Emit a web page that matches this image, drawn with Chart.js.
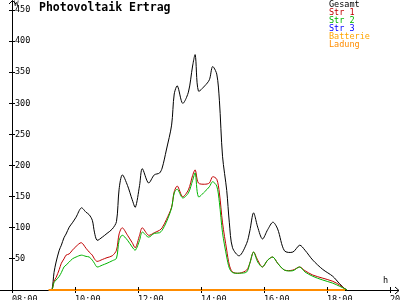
<!DOCTYPE html>
<html>
<head>
<meta charset="utf-8">
<title>Photovoltaik Ertrag</title>
<script src="https://cdn.jsdelivr.net/npm/chart.js@4.4.1/dist/chart.umd.min.js"></script>
<style>
    html, body { margin: 0; padding: 0; background: #fff; }
    canvas { display: block; }
</style>
</head>
<body>
<canvas id="ertragChart" width="400" height="300"></canvas>
<script>
// Messzeitpunkte (hh:mm) und Leistung in W
const times = [
    '09:11', '09:16', '09:20', '09:24', '09:30', '09:34', '09:39', '09:43', '09:49', '09:55',
    '10:02', '10:12', '10:21', '10:27', '10:33', '10:37', '10:42', '10:52', '11:01', '11:11',
    '11:19', '11:24', '11:30', '11:40', '11:49', '11:55', '12:03', '12:08', '12:20', '12:31',
    '12:41', '12:46', '12:54', '13:04', '13:09', '13:15', '13:25', '13:36', '13:44', '13:49',
    '13:55', '14:07', '14:16', '14:22', '14:30', '14:35', '14:41', '14:49', '14:54', '15:00',
    '15:13', '15:27', '15:33', '15:40', '15:48', '15:57', '16:07', '16:17', '16:26', '16:39',
    '16:55', '17:08', '17:18', '17:33', '17:52', '18:11', '18:24', '18:34', '18:38'
];
const gesamt = [
    0, 0, 28, 45, 64, 72, 84, 90, 101, 108,
    117, 132, 125, 121, 112, 93, 80, 85, 91, 98,
    110, 162, 185, 168, 145, 133, 168, 195, 172, 185,
    188, 196, 225, 265, 315, 328, 300, 318, 360, 378,
    320, 328, 338, 359, 347, 305, 215, 160, 108, 68,
    55, 75, 95, 124, 101, 82, 97, 109, 98, 63,
    61, 72, 64, 48, 33, 22, 10, 2, 0
];
const str1 = [
    0, 0, 14, 20, 33, 43, 50, 56, 58, 64,
    70, 76, 67, 61, 56, 50, 46, 49, 52, 55,
    64, 90, 100, 88, 76, 68, 88, 100, 88, 92,
    96, 100, 113, 133, 158, 167, 150, 161, 184, 193,
    172, 170, 172, 182, 178, 156, 108, 64, 40, 29,
    27, 32, 43, 61, 48, 37, 48, 53, 43, 32,
    32, 37, 31, 24, 19, 14, 8, 2, 0
];
const str2 = [
    0, 0, 12, 16, 22, 28, 37, 40, 45, 50,
    53, 56, 54, 53, 48, 43, 37, 40, 43, 47,
    51, 80, 88, 80, 69, 64, 80, 93, 85, 91,
    92, 96, 109, 132, 156, 162, 148, 156, 176, 188,
    150, 158, 166, 174, 167, 141, 92, 53, 35, 28,
    27, 29, 43, 61, 45, 37, 48, 53, 43, 32,
    31, 37, 29, 22, 16, 11, 6, 2, 0
];

// Str 3, Batterie und Ladung liegen den ganzen Tag bei 0 W
const flatTimes = ['09:10', '18:34'];
const str3 = [0, 0];
const batterie = [0, 0];
const ladung = [0, 0];

// Achsen
const xTickHours = [8, 10, 12, 14, 16, 18, 20];
const xTickLabels = ['08:00', '10:00', '12:00', '14:00', '16:00', '18:00', '20:00'];
const yMax = 450;
const yStep = 50;

const MONO = '"DejaVu Sans Mono", "Liberation Mono", monospace';

function toHours(t) {
    const [h, m] = t.split(':').map(Number);
    return h + m / 60;
}

function points(ts, vs) {
    return ts.map((t, i) => ({ x: toHours(t), y: vs[i] }));
}

function series(label, color, data, order, width = 1) {
    return {
        label: label,
        data: data,
        borderColor: color,
        backgroundColor: color,
        borderWidth: width,
        pointRadius: 0,
        fill: false,
        tension: 0.3,
        order: order,
        clip: false
    };
}

/**
 * Axis arrows, inner tick stubs, title, unit labels and legend text
 */
const decorPlugin = {
    id: 'decor',
    afterDraw(chart) {
        const ctx = chart.ctx;
        const a = chart.chartArea;
        const xScale = chart.scales.x;
        const yScale = chart.scales.y;
        const x0 = Math.round(a.left) + 0.5;
        const y0 = Math.round(a.bottom) + 0.5;

        ctx.save();
        ctx.strokeStyle = '#000';
        ctx.lineWidth = 1;
        ctx.beginPath();
        // x axis extensions + arrow
        ctx.moveTo(0, y0); ctx.lineTo(a.left, y0);
        ctx.moveTo(a.right, y0); ctx.lineTo(399, y0);
        ctx.moveTo(395, y0 - 3.5); ctx.lineTo(399, y0); ctx.lineTo(395, y0 + 3.5);
        // y axis extension + arrow
        ctx.moveTo(x0, a.top); ctx.lineTo(x0, 0.5);
        ctx.moveTo(x0 - 3.5, 4); ctx.lineTo(x0, 0.5); ctx.lineTo(x0 + 3.5, 4);
        // tick stubs inside the plot
        yScale.ticks.forEach(t => {
            if (t.value === 0) return;
            const py = Math.round(yScale.getPixelForValue(t.value) - 0.5) + 0.5;
            ctx.moveTo(a.left, py); ctx.lineTo(a.left + 3, py);
        });
        xScale.ticks.forEach(t => {
            const px = Math.round(xScale.getPixelForValue(t.value) - 0.5) + 0.5;
            ctx.moveTo(px, a.bottom); ctx.lineTo(px, a.bottom - 3);
        });
        ctx.stroke();

        ctx.fillStyle = '#000';
        ctx.textBaseline = 'alphabetic';
        ctx.textAlign = 'left';
        ctx.font = 'bold 11.5px ' + MONO;
        ctx.fillText('Photovoltaik Ertrag', 39, 11);

        ctx.textBaseline = 'top';
        ctx.font = '7.5px ' + MONO;
        ctx.fillText('W', 14, 0);
        ctx.font = '8.5px ' + MONO;
        ctx.fillText('h', 383, 277);

        // legend, text only
        chart.data.datasets.forEach((ds, i) => {
            ctx.fillStyle = ds.borderColor;
            ctx.fillText(ds.label, 329, 1 + i * 8);
        });
        ctx.restore();
    }
};

document.addEventListener('DOMContentLoaded', function () {
    const ctx = document.getElementById('ertragChart').getContext('2d');

    new Chart(ctx, {
        type: 'line',
        data: {
            datasets: [
                series('Gesamt', '#000000', points(times, gesamt), 5),
                series('Str 1', '#c00000', points(times, str1), 4),
                series('Str 2', '#00b400', points(times, str2), 3),
                series('Str 3', '#0000ff', points(flatTimes, str3), 2),
                series('Batterie', '#ffa500', points(flatTimes, batterie), 1, 2),
                series('Ladung', '#ff8c00', points(flatTimes, ladung), 0, 2)
            ]
        },
        options: {
            responsive: false,
            animation: false,
            devicePixelRatio: 1,
            layout: {
                padding: { top: 10, right: 10, bottom: 0, left: 0 }
            },
            plugins: {
                legend: { display: false },
                title: { display: false },
                tooltip: { enabled: false }
            },
            scales: {
                x: {
                    type: 'linear',
                    min: xTickHours[0],
                    max: xTickHours[xTickHours.length - 1],
                    border: { color: '#000', width: 1 },
                    grid: { display: true, drawOnChartArea: false, color: '#000', tickLength: 3 },
                    afterBuildTicks: scale => {
                        scale.ticks = xTickHours.map(v => ({ value: v }));
                    },
                    ticks: {
                        autoSkip: false,
                        maxRotation: 0,
                        align: 'start',
                        padding: 2,
                        color: '#000',
                        font: { family: MONO, size: 8.5 },
                        callback: (v, i) => xTickLabels[i]
                    },
                    afterFit: scale => {
                        scale.height = 10;
                        scale.paddingLeft = 0;
                        scale.paddingRight = 0;
                    }
                },
                y: {
                    type: 'linear',
                    min: 0,
                    max: yMax,
                    border: { color: '#000', width: 1 },
                    grid: { display: true, drawOnChartArea: false, color: '#000', tickLength: 3 },
                    ticks: {
                        stepSize: yStep,
                        mirror: true,
                        padding: 3,
                        color: '#000',
                        font: { family: MONO, size: 8.5 },
                        callback: v => (v === 0 ? '' : v)
                    },
                    afterFit: scale => {
                        scale.width = 12;
                        scale.paddingTop = 0;
                        scale.paddingBottom = 0;
                    }
                }
            }
        },
        plugins: [decorPlugin]
    });
});
</script>
</body>
</html>
